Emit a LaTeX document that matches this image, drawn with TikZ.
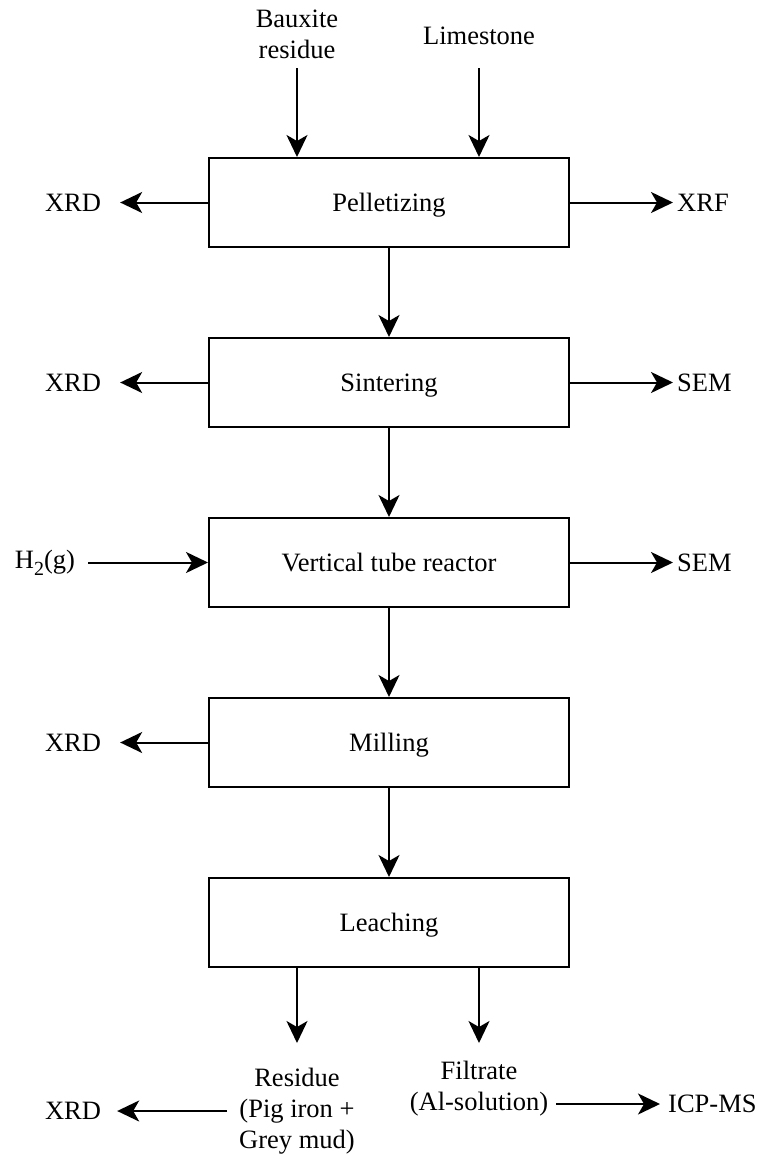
\documentclass[tikz,border=0pt]{standalone}
\usepackage{fontspec}
\setmainfont{Liberation Serif}
\usetikzlibrary{arrows.meta}
\begin{document}
\begin{tikzpicture}[x=1pt,y=-1pt,
  every node/.style={font=\fontsize{26.5}{31}\selectfont},
  procbox/.style={draw,line width=2pt,minimum width=360pt,minimum height=89pt,inner sep=0pt,text height=19pt,text depth=1pt},
  lab/.style={inner sep=0pt,align=center},
  arr/.style={line width=2pt,-{Stealth[length=22pt,width=21pt,inset=6pt]}}]
\useasboundingbox (0,0) rectangle (772,1159);
% process boxes
\node[procbox] (pel) at (389,202.5) {Pelletizing};
\node[procbox] (sin) at (389,382.5) {Sintering};
\node[procbox] (vtr) at (389,562.5) {Vertical tube reactor};
\node[procbox] (mil) at (389,742.5) {Milling};
\node[procbox] (lea) at (389,922.5) {Leaching};
% inputs
\node[lab] (bx) at (297,34) {Bauxite\\residue};
\node[lab] (ls) at (479,36) {Limestone};
\coordinate (bxs) at (297,68);
\coordinate (lss) at (479,68);
\draw[arr] (bxs) -- (bxs |- pel.north);
\draw[arr] (lss) -- (lss |- pel.north);
% main chain
\draw[arr] (pel) -- (sin);
\draw[arr] (sin) -- (vtr);
\draw[arr] (vtr) -- (mil);
\draw[arr] (mil) -- (lea);
% side outputs
\node[lab] (xrd1) at (73,203) {XRD};
\node[lab] (xrd2) at (73,383) {XRD};
\node[lab] (xrd4) at (73,743) {XRD};
\node[lab,anchor=west] (xrf) at (677,203) {XRF};
\node[lab,anchor=west] (sem2) at (677,383) {SEM};
\node[lab,anchor=west] (sem3) at (677,563) {SEM};
\node[lab] (h2) at (45,563) {H\raisebox{-0.28em}{\fontsize{20}{20}\selectfont 2}(g)};
\draw[arr] (pel.west) -- ([xshift=19pt]xrd1.east |- pel.west);
\draw[arr] (sin.west) -- ([xshift=19pt]xrd2.east |- sin.west);
\draw[arr] (mil.west) -- ([xshift=19pt]xrd4.east |- mil.west);
\draw[arr] (pel.east) -- ([xshift=-4pt]xrf.west |- pel.east);
\draw[arr] (sin.east) -- ([xshift=-4pt]sem2.west |- sin.east);
\draw[arr] (vtr.east) -- ([xshift=-4pt]sem3.west |- vtr.east);
\draw[arr] ([xshift=13pt]h2.east |- vtr.west) -- (vtr.west);
% leaching outputs
\node[lab] (res) at (297,1111) {Residue\\(Pig iron +\\Grey mud)};
\node[lab] (fil) at (479,1089) {Filtrate\\(Al-solution)};
\coordinate (resn) at (297,1043);
\coordinate (filn) at (479,1043);
\draw[arr] (resn |- lea.south) -- (resn);
\draw[arr] (filn |- lea.south) -- (filn);
\node[lab] (xrd5) at (73,1111) {XRD};
\node[lab,anchor=west] (icp) at (668,1104) {ICP-MS};
\coordinate (icpa) at (556,1104);
\draw[arr] ([xshift=-12pt]res.west) -- ([xshift=16pt]xrd5.east);
\draw[arr] (icpa) -- ([xshift=-8pt]icp.west);
\end{tikzpicture}
\end{document}
